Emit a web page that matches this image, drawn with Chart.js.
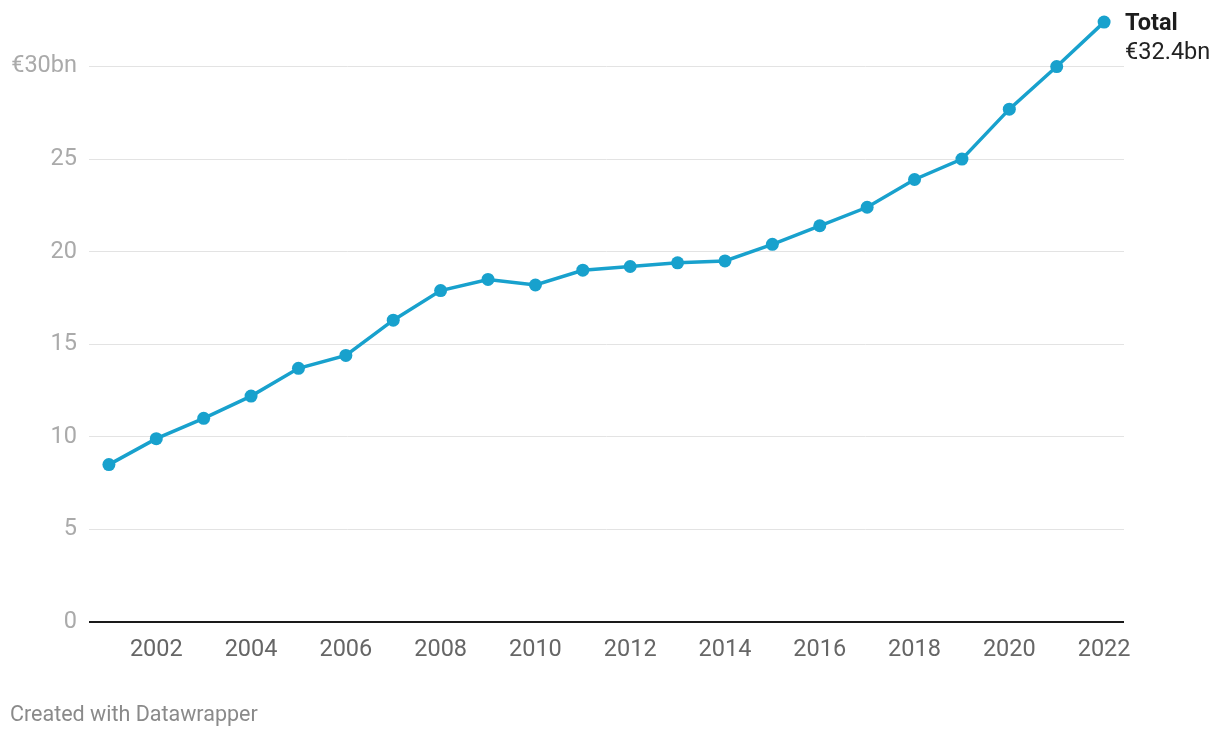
<!DOCTYPE html>
<html>
<head>
<meta charset="utf-8">
<script src="https://cdn.jsdelivr.net/npm/chart.js@4"></script>
<style>
html,body{margin:0;padding:0;background:#fff;}
#wrap{width:1220px;height:738px;position:relative;}
</style>
</head>
<body>
<div id="wrap"><canvas id="c" width="1220" height="738"></canvas></div>
<script>
const years = [2001,2002,2003,2004,2005,2006,2007,2008,2009,2010,2011,2012,2013,2014,2015,2016,2017,2018,2019,2020,2021,2022];
const totalValues = [8.5,9.9,11.0,12.2,13.7,14.4,16.3,17.9,18.5,18.2,19.0,19.2,19.4,19.5,20.4,21.4,22.4,23.9,25.0,27.7,30.0,32.4];
const yTicks = [0,5,10,15,20,25,30];
const xTicks = [2002,2004,2006,2008,2010,2012,2014,2016,2018,2020,2022];
const seriesName = "Total";
const lastLabel = "€32.4bn";
const credit = "Created with Datawrapper";

const FONT = "Roboto, 'Noto Sans', sans-serif";
const COLOR = "#18a1cd";

const overlay = {
  id: 'overlay',
  afterDraw(chart) {
    const ctx = chart.ctx;
    const meta = chart.getDatasetMeta(0);
    const last = meta.data[meta.data.length - 1];
    ctx.save();
    ctx.textAlign = 'left';
    ctx.textBaseline = 'middle';
    ctx.fillStyle = '#1d1d1d';
    ctx.font = "bold 23.5px " + FONT;
    ctx.fillText(seriesName, last.x + 21, last.y + 2);
    ctx.font = "23.5px " + FONT;
    ctx.fillStyle = '#222';
    ctx.fillText(lastLabel, last.x + 21, last.y + 31);
    ctx.font = "21.5px " + FONT;
    ctx.fillStyle = '#8a8a8a';
    ctx.fillText(credit, 10, 716);
    ctx.restore();
  }
};

new Chart(document.getElementById('c'), {
  type: 'line',
  data: {
    datasets: [{
      label: seriesName,
      data: years.map((y, i) => ({x: y, y: totalValues[i]})),
      borderColor: COLOR,
      backgroundColor: COLOR,
      borderWidth: 3.5,
      pointRadius: 6.5,
      pointBackgroundColor: COLOR,
      pointBorderWidth: 0,
      tension: 0,
      clip: false
    }]
  },
  options: {
    responsive: false,
    animation: false,
    devicePixelRatio: 1,
    layout: {padding: {top: 11, right: 96, bottom: 66, left: 0}},
    plugins: {legend: {display: false}, tooltip: {enabled: false}},
    scales: {
      x: {
        type: 'linear',
        min: 2000.58,
        max: 2022.42,
        afterBuildTicks(axis) { axis.ticks = xTicks.map(v => ({value: v})); },
        afterFit(axis) { axis.height = 50; axis.paddingLeft = 0; axis.paddingRight = 0; },
        grid: {display: false, drawTicks: false},
        border: {display: false},
        ticks: {
          callback: v => String(v),
          color: '#666',
          font: {family: FONT, size: 23.5},
          padding: 14,
          maxRotation: 0,
          autoSkip: false
        }
      },
      y: {
        min: 0,
        max: 33,
        afterBuildTicks(axis) { axis.ticks = yTicks.map(v => ({value: v})); },
        afterFit(axis) { axis.width = 89; axis.paddingTop = 0; axis.paddingBottom = 0; },
        grid: {
          drawTicks: false,
          color: c => c.tick && c.tick.value === 0 ? '#1a1a1a' : '#e3e3e3',
          lineWidth: c => c.tick && c.tick.value === 0 ? 2 : 1
        },
        border: {display: false},
        ticks: {
          callback: v => v === 30 ? '€30bn' : String(v),
          color: '#aaaaaa',
          font: {family: FONT, size: 23.5},
          padding: 12
        }
      }
    }
  },
  plugins: [overlay]
});
</script>
</body>
</html>
